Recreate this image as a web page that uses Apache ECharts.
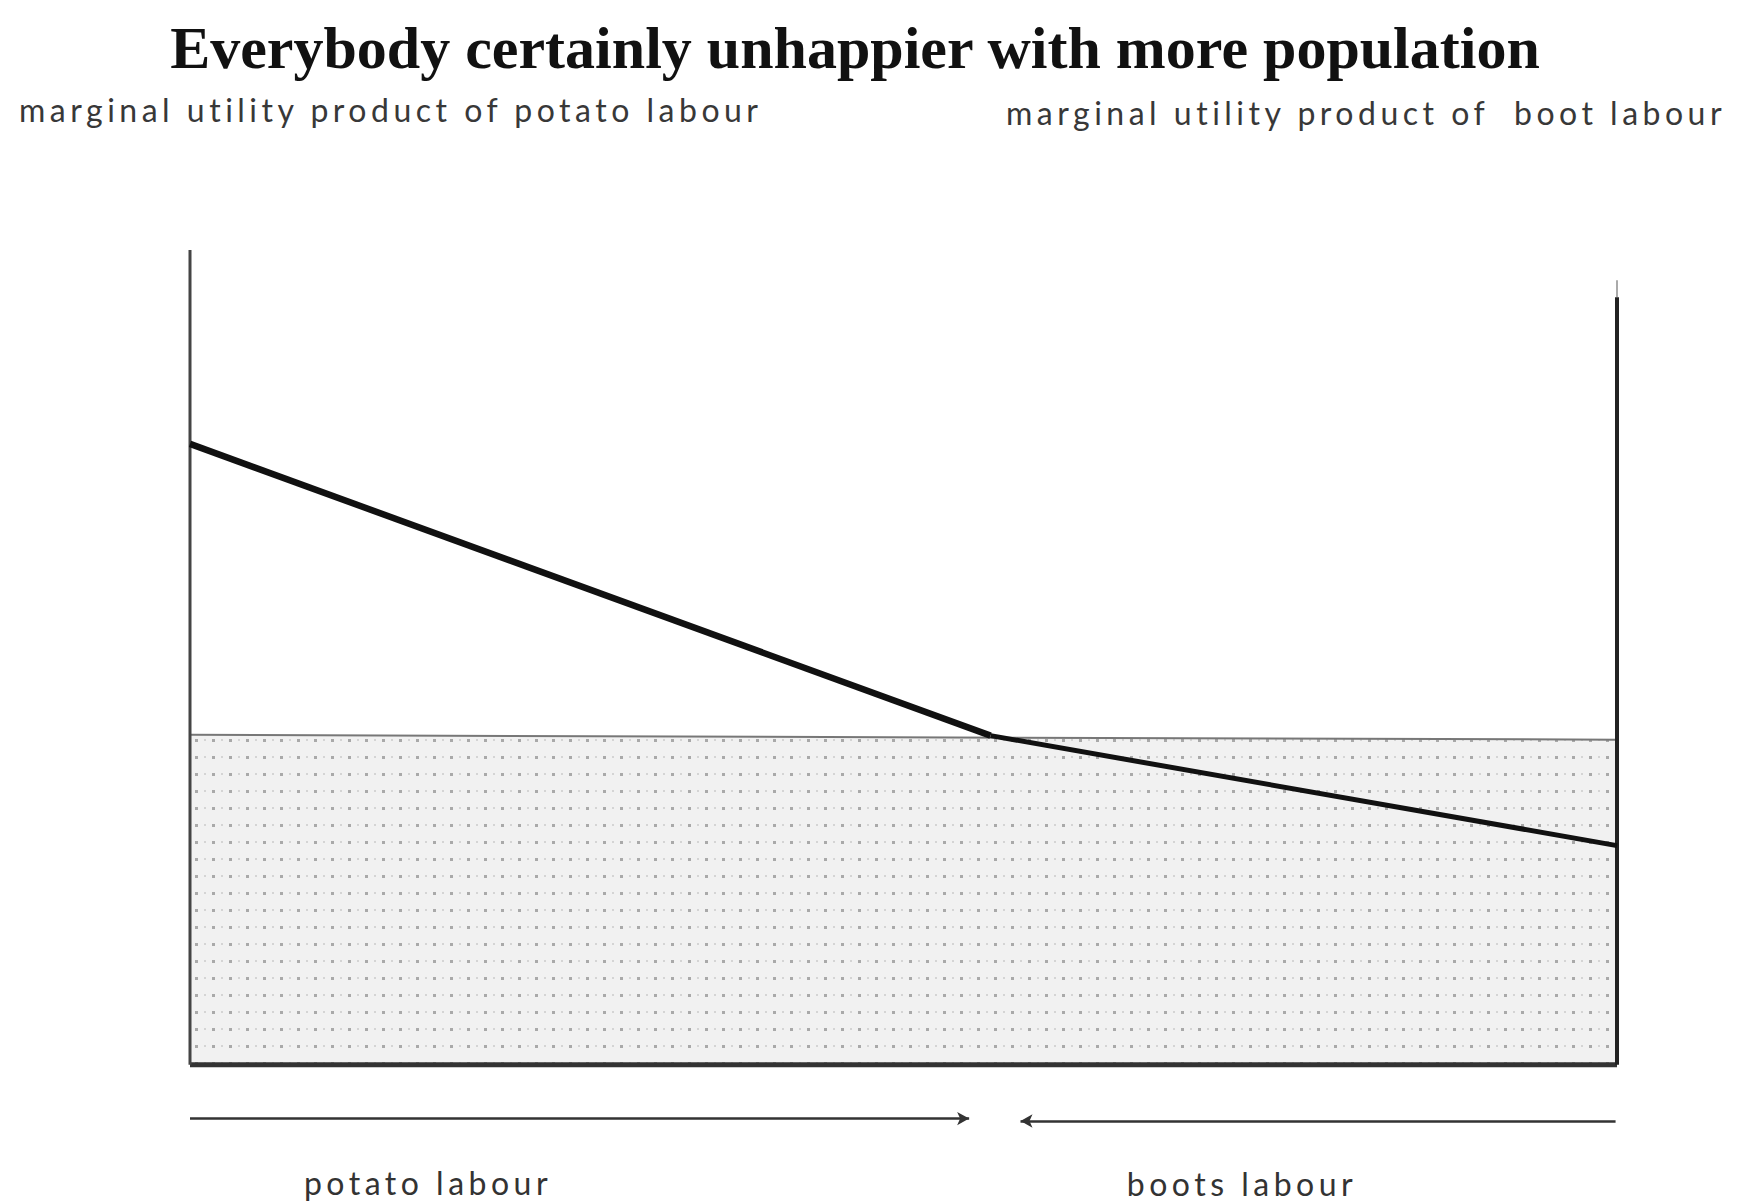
<!DOCTYPE html>
<html>
<head>
<meta charset="utf-8">
<script src="https://cdn.jsdelivr.net/npm/echarts@6/dist/echarts.min.js"></script>
<style>
html,body{margin:0;padding:0;background:#fff;}
#chart{width:1740px;height:1204px;}
#chart svg text[style*="Lato"]{letter-spacing:4.5px;}
</style>
</head>
<body>
<div id="chart"></div>
<script>
// ---- data ----
const titleText = 'Everybody certainly unhappier with more population';
const leftAxisLabel = 'marginal utility product of potato labour';
const rightAxisLabel = 'marginal utility product of  boot labour';
const bottomLabels = ['potato labour', 'boots labour'];

// labour allocation axis: 0 = left wall, 100 = right wall
const potatoX = [0, 56.1];
const potatoMU = [76.2, 40.4];
const bootsX = [56.1, 100];
const bootsMU = [40.4, 26.9];
const wageX = [0, 100];
const wageLevel = [40.5, 39.9];
const floorLevel = [0, 0];
const leftWall = [[0, 100], [0, 0]];
const rightWall = [[100, 94.2], [100, 0]];
const rightWallFaint = [[100, 96.3], [100, 94.2]];
const potatoArrow = [[0, -6.6], [54.6, -6.6]];
const bootsArrow = [[99.9, -6.9], [58.2, -6.9]];

// ---- dotted fill pattern ----
function makePattern() {
  const c = document.createElement('canvas');
  c.width = 17; c.height = 17;
  const g = c.getContext('2d');
  g.fillStyle = '#f1f1f1';
  g.fillRect(0, 0, 17, 17);
  g.fillStyle = '#a9a9a9';
  g.fillRect(8, 8, 3, 3);
  g.fillStyle = '#d4d4d4';
  g.fillRect(0, 8, 2, 2);
  return c.toDataURL();
}

const zip = (xs, ys) => xs.map((x, i) => [x, ys[i]]);
const sans = 'Lato';

const chart = echarts.init(document.getElementById('chart'), null, { renderer: 'svg' });
chart.setOption({
  backgroundColor: '#fff',
  animation: false,
  title: [
    { text: titleText, left: 850, top: 13, textAlign: 'center',
      textStyle: { fontFamily: 'Liberation Serif', fontWeight: 'bold', fontSize: 60, color: '#111' } },
    { text: leftAxisLabel, left: 14, top: 88,
      textStyle: { fontFamily: sans, fontWeight: 'normal', fontSize: 32, color: '#383838' } },
    { text: rightAxisLabel, left: 1001, top: 91,
      textStyle: { fontFamily: sans, fontWeight: 'normal', fontSize: 32, color: '#383838' } },
    { text: bottomLabels[0], left: 423, top: 1161, textAlign: 'center',
      textStyle: { fontFamily: sans, fontWeight: 'normal', fontSize: 32, color: '#333' } },
    { text: bottomLabels[1], left: 1237, top: 1162, textAlign: 'center',
      textStyle: { fontFamily: sans, fontWeight: 'normal', fontSize: 32, color: '#333' } }
  ],
  grid: { left: 190, right: 123, top: 250, bottom: 17 },
  xAxis: { type: 'value', min: 0, max: 100, show: false },
  yAxis: { type: 'value', min: -15, max: 100, show: false },
  series: [
    { type: 'line', data: zip(wageX, wageLevel), symbol: 'none', z: 1,
      lineStyle: { color: '#777', width: 2 },
      areaStyle: { origin: 'auto', opacity: 1, color: { image: makePattern(), repeat: 'repeat' } } },
    { type: 'line', data: zip(wageX, floorLevel), symbol: 'none', z: 3,
      lineStyle: { color: '#333', width: 5 } },
    { type: 'line', data: leftWall, symbol: 'none', z: 3,
      lineStyle: { color: '#444', width: 3 } },
    { type: 'line', data: rightWallFaint, symbol: 'none', z: 3,
      lineStyle: { color: '#aaa', width: 2 } },
    { type: 'line', data: rightWall, symbol: 'none', z: 3,
      lineStyle: { color: '#222', width: 4 } },
    { type: 'line', data: zip(potatoX, potatoMU), symbol: 'none', z: 4,
      lineStyle: { color: '#111', width: 6.5 } },
    { type: 'line', data: zip(bootsX, bootsMU), symbol: 'none', z: 4,
      lineStyle: { color: '#111', width: 5 } },
    { type: 'line', data: [], symbol: 'none', z: 4,
      markLine: {
        silent: true, symbol: ['none', 'arrow'], symbolSize: [10, 12],
        label: { show: false },
        lineStyle: { color: '#333', width: 2.5, type: 'solid' },
        data: [
          [{ coord: potatoArrow[0] }, { coord: potatoArrow[1] }],
          [{ coord: bootsArrow[0] }, { coord: bootsArrow[1] }]
        ]
      } }
  ]
});
</script>
</body>
</html>
